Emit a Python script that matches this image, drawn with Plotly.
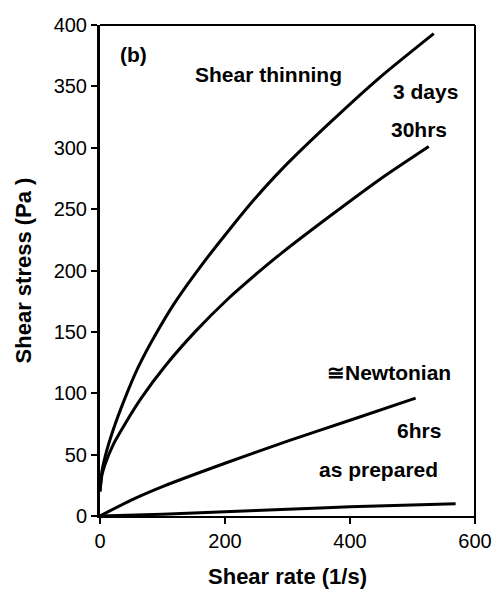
import plotly.graph_objects as go

# Data
x_3days = [0, 3, 8, 21, 40, 61, 88, 120, 162, 205, 247, 290, 367, 447, 534]
y_3days = [20, 36, 48, 70, 96, 121, 147, 174, 204, 232, 258, 282, 320, 357, 393]

x_30hrs = [0, 3, 8, 21, 40, 66, 104, 152, 205, 252, 290, 367, 447, 526]
y_30hrs = [20, 33, 42, 58, 75, 96, 122, 150, 177, 198, 214, 244, 274, 301]

x_6hrs = [0, 50, 100, 200, 300, 400, 505]
y_6hrs = [0, 13, 24, 43, 61, 78, 96]

x_prep = [0, 100, 200, 300, 400, 569]
y_prep = [0, 1.5, 3.5, 5.5, 7.5, 10]

x_ticks = [0, 200, 400, 600]
y_ticks = [0, 50, 100, 150, 200, 250, 300, 350, 400]

FONT = "Liberation Sans, Arial, sans-serif"

fig = go.Figure()
for xs, ys in [(x_3days, y_3days), (x_30hrs, y_30hrs), (x_6hrs, y_6hrs), (x_prep, y_prep)]:
    fig.add_trace(go.Scatter(x=xs, y=ys, mode="lines",
                             line=dict(color="black", width=3, shape="spline", smoothing=0.7),
                             showlegend=False, hoverinfo="skip"))

labels = [
    ("(b)", 54, 376),
    ("Shear thinning", 270, 360),
    ("3 days", 520, 346),
    ("30hrs", 511, 315),
    ("≅Newtonian", 463, 117),
    ("6hrs", 511, 70),
    ("as prepared", 445, 37.5),
]
for txt, ax, ay in labels:
    fig.add_annotation(x=ax, y=ay, text=txt, showarrow=False,
                       xanchor="center", yanchor="middle",
                       font=dict(family=FONT, size=21, color="black", weight="bold"))

# frame top & right
fig.add_shape(type="line", xref="paper", yref="paper", x0=0, x1=1, y0=1, y1=1,
              line=dict(color="black", width=2))
fig.add_shape(type="line", xref="paper", yref="paper", x0=1, x1=1, y0=-0.012, y1=1,
              line=dict(color="black", width=2))

fig.update_layout(
    width=495, height=596,
    margin=dict(l=100, r=20, t=25, b=80),
    paper_bgcolor="white", plot_bgcolor="white",
    font=dict(family=FONT, color="black"),
    xaxis=dict(range=[0, 600], tickvals=x_ticks, showgrid=False, zeroline=False,
               automargin=False,
               showline=True, linecolor="black", linewidth=2,
               ticks="outside", ticklen=6, tickwidth=1.5, tickcolor="black",
               tickfont=dict(size=20, family=FONT),
               title=dict(text="<b>Shear rate (1/s)</b>", font=dict(size=22, family=FONT), standoff=18)),
    yaxis=dict(range=[0, 400], tickvals=y_ticks, showgrid=False, zeroline=False,
               automargin=False,
               showline=True, linecolor="black", linewidth=3,
               ticks="outside", ticklen=6, tickwidth=1.5, tickcolor="black",
               tickfont=dict(size=20, family=FONT),
               title=dict(text="<b>Shear stress (Pa )</b>", font=dict(size=22, family=FONT), standoff=16)),
)

fig.write_html("out.html")
